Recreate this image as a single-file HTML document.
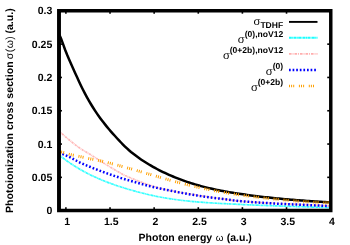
<!DOCTYPE html>
<html><head><meta charset="utf-8"><title>plot</title>
<style>
html,body{margin:0;padding:0;background:#fff;}
body{width:350px;height:245px;overflow:hidden;}
svg{display:block;}
.t{filter:grayscale(1);}
text{font-family:"Liberation Sans",sans-serif;font-weight:bold;font-size:10.53px;fill:#000;text-rendering:geometricPrecision;}
</style></head><body>
<svg width="350" height="245" viewBox="0 0 350 245">
<rect width="350" height="245" fill="#fff"/>
<clipPath id="c"><rect x="59.0" y="10.85" width="271.8" height="199.8"/></clipPath>
<g fill="none" clip-path="url(#c)">
<path d="M59.0,33.88 L61.0,38.48 L63.0,43.87 L65.0,49.51 L67.0,54.57 L69.0,59.18 L71.0,63.76 L73.0,68.28 L75.0,72.70 L77.0,77.02 L79.0,81.42 L81.0,85.66 L83.0,89.73 L85.0,93.62 L87.0,97.33 L89.0,100.87 L91.0,104.26 L93.0,107.50 L95.0,110.61 L97.0,113.58 L99.0,116.43 L101.0,119.18 L103.0,121.82 L105.0,124.37 L107.0,126.84 L109.0,129.24 L111.0,131.56 L113.0,133.82 L115.0,136.00 L117.0,138.24 L119.0,140.41 L121.0,142.51 L123.0,144.55 L125.0,146.52 L127.0,148.43 L129.0,150.28 L131.0,152.00 L133.0,153.58 L135.0,155.11 L137.0,156.59 L139.0,158.02 L141.0,159.41 L143.0,160.74 L145.0,162.03 L147.0,163.28 L149.0,164.49 L151.0,165.67 L153.0,166.81 L155.0,167.93 L157.0,169.00 L159.0,170.05 L161.0,171.06 L163.0,172.04 L165.0,172.98 L167.0,173.90 L169.0,174.79 L171.0,175.66 L173.0,176.49 L175.0,177.30 L177.0,178.12 L179.0,178.91 L181.0,179.68 L183.0,180.42 L185.0,181.14 L187.0,181.84 L189.0,182.51 L191.0,183.16 L193.0,183.79 L195.0,184.40 L197.0,184.98 L199.0,185.55 L201.0,186.10 L203.0,186.63 L205.0,187.14 L207.0,187.64 L209.0,188.12 L211.0,188.58 L213.0,189.03 L215.0,189.46 L217.0,189.88 L219.0,190.28 L221.0,190.67 L223.0,191.05 L225.0,191.42 L227.0,191.78 L229.0,192.12 L231.0,192.46 L233.0,192.79 L235.0,193.11 L237.0,193.42 L239.0,193.72 L241.0,194.02 L243.0,194.31 L245.0,194.60 L247.0,194.87 L249.0,195.15 L251.0,195.41 L253.0,195.68 L255.0,195.93 L257.0,196.18 L259.0,196.43 L261.0,196.67 L263.0,196.90 L265.0,197.13 L267.0,197.35 L269.0,197.57 L271.0,197.79 L273.0,198.00 L275.0,198.20 L277.0,198.40 L279.0,198.60 L281.0,198.79 L283.0,198.97 L285.0,199.16 L287.0,199.33 L289.0,199.51 L291.0,199.68 L293.0,199.84 L295.0,200.01 L297.0,200.17 L299.0,200.32 L301.0,200.47 L303.0,200.62 L305.0,200.77 L307.0,200.91 L309.0,201.05 L311.0,201.18 L313.0,201.32 L315.0,201.45 L317.0,201.58 L319.0,201.70 L321.0,201.82 L323.0,201.94 L325.0,202.06 L327.0,202.18 L329.0,202.29" stroke="#000" stroke-width="2.5"/>
<path d="M59.0,154.90 L61.0,156.49 L63.0,158.02 L65.0,159.52 L67.0,160.96 L69.0,162.36 L71.0,163.72 L73.0,165.04 L75.0,166.31 L77.0,167.55 L79.0,168.74 L81.0,169.90 L83.0,171.02 L85.0,172.11 L87.0,173.16 L89.0,174.18 L91.0,175.17 L93.0,176.13 L95.0,177.06 L97.0,177.96 L99.0,178.83 L101.0,179.68 L103.0,180.51 L105.0,181.31 L107.0,182.09 L109.0,182.85 L111.0,183.59 L113.0,184.31 L115.0,185.01 L117.0,185.69 L119.0,186.36 L121.0,187.00 L123.0,187.64 L125.0,188.26 L127.0,188.86 L129.0,189.45 L131.0,190.03 L133.0,190.60 L135.0,191.15 L137.0,191.70 L139.0,192.23 L141.0,192.76 L143.0,193.27 L145.0,193.77 L147.0,194.25 L149.0,194.72 L151.0,195.18 L153.0,195.62 L155.0,196.05 L157.0,196.46 L159.0,196.85 L161.0,197.23 L163.0,197.60 L165.0,197.95 L167.0,198.28 L169.0,198.60 L171.0,198.91 L173.0,199.20 L175.0,199.49 L177.0,199.76 L179.0,200.02 L181.0,200.26 L183.0,200.50 L185.0,200.72 L187.0,200.94 L189.0,201.15 L191.0,201.34 L193.0,201.53 L195.0,201.71 L197.0,201.88 L199.0,202.05 L201.0,202.20 L203.0,202.35 L205.0,202.50 L207.0,202.64 L209.0,202.77 L211.0,202.90 L213.0,203.02 L215.0,203.14 L217.0,203.26 L219.0,203.37 L221.0,203.48 L223.0,203.58 L225.0,203.69 L227.0,203.79 L229.0,203.89 L231.0,203.99 L233.0,204.09 L235.0,204.18 L237.0,204.28 L239.0,204.37 L241.0,204.46 L243.0,204.55 L245.0,204.64 L247.0,204.73 L249.0,204.82 L251.0,204.90 L253.0,204.98 L255.0,205.07 L257.0,205.15 L259.0,205.23 L261.0,205.31 L263.0,205.38 L265.0,205.46 L267.0,205.54 L269.0,205.61 L271.0,205.69 L273.0,205.76 L275.0,205.83 L277.0,205.90 L279.0,205.97 L281.0,206.04 L283.0,206.11 L285.0,206.18 L287.0,206.25 L289.0,206.32 L291.0,206.38 L293.0,206.45 L295.0,206.51 L297.0,206.58 L299.0,206.64 L301.0,206.71 L303.0,206.77 L305.0,206.84 L307.0,206.90 L309.0,206.96 L311.0,207.02 L313.0,207.09 L315.0,207.15 L317.0,207.21 L319.0,207.27 L321.0,207.33 L323.0,207.40 L325.0,207.46 L327.0,207.52 L329.0,207.58" stroke="#00ffff" stroke-width="1.7" stroke-opacity="0.8" stroke-dasharray="2.8 0.4 1.0 0.4"/>
<path d="M59.0,130.84 L61.0,132.72 L63.0,134.56 L65.0,136.35 L67.0,138.10 L69.0,139.77 L71.0,141.41 L73.0,143.02 L75.0,144.61 L77.0,146.18 L79.0,147.52 L81.0,148.86 L83.0,150.18 L85.0,151.38 L87.0,152.57 L89.0,153.76 L91.0,154.95 L93.0,156.19 L95.0,157.50 L97.0,158.81 L99.0,160.10 L101.0,161.38 L103.0,162.65 L105.0,163.90 L107.0,165.14 L109.0,166.37 L111.0,167.57 L113.0,168.76 L115.0,169.93 L117.0,171.08 L119.0,172.21 L121.0,173.32 L123.0,174.41 L125.0,175.48 L127.0,176.36 L129.0,177.22 L131.0,178.06 L133.0,178.88 L135.0,179.67 L137.0,180.49 L139.0,181.29 L141.0,182.07 L143.0,182.82 L145.0,183.54 L147.0,184.23 L149.0,184.89 L151.0,185.56 L153.0,186.23 L155.0,186.86 L157.0,187.46 L159.0,188.02 L161.0,188.54 L163.0,189.04 L165.0,189.51 L167.0,189.95 L169.0,190.38 L171.0,190.77 L173.0,191.14 L175.0,191.50 L177.0,191.84 L179.0,192.18 L181.0,192.52 L183.0,192.86 L185.0,193.20 L187.0,193.53 L189.0,193.86 L191.0,194.19 L193.0,194.51 L195.0,194.83 L197.0,195.16 L199.0,195.49 L201.0,195.82 L203.0,196.13 L205.0,196.44 L207.0,196.75 L209.0,197.05 L211.0,197.34 L213.0,197.62 L215.0,197.90 L217.0,198.16 L219.0,198.42 L221.0,198.67 L223.0,198.94 L225.0,199.24 L227.0,199.53 L229.0,199.82 L231.0,200.09 L233.0,200.35 L235.0,200.61 L237.0,200.80 L239.0,200.98 L241.0,201.15 L243.0,201.32 L245.0,201.48 L247.0,201.64 L249.0,201.79 L251.0,201.93 L253.0,202.07 L255.0,202.20 L257.0,202.33 L259.0,202.45 L261.0,202.57 L263.0,202.68 L265.0,202.79 L267.0,202.90 L269.0,203.00 L271.0,203.10 L273.0,203.20 L275.0,203.30 L277.0,203.39 L279.0,203.48 L281.0,203.57 L283.0,203.66 L285.0,203.74 L287.0,203.83 L289.0,203.92 L291.0,204.00 L293.0,204.09 L295.0,204.17 L297.0,204.26 L299.0,204.34 L301.0,204.43 L303.0,204.52 L305.0,204.61 L307.0,204.70 L309.0,204.79 L311.0,204.89 L313.0,204.99 L315.0,205.09 L317.0,205.19 L319.0,205.30 L321.0,205.41 L323.0,205.53 L325.0,205.65 L327.0,205.77 L329.0,205.90" stroke="#ffa0a0" stroke-width="1.7" stroke-opacity="0.75" stroke-dasharray="2.2 0.6 0.8 0.6"/>
<path d="M59.0,152.49 L61.0,153.34 L63.0,154.21 L65.0,155.08 L67.0,155.96 L69.0,156.84 L71.0,157.81 L73.0,158.88 L75.0,159.94 L77.0,161.00 L79.0,162.05 L81.0,163.02 L83.0,163.88 L85.0,164.74 L87.0,165.59 L89.0,166.43 L91.0,167.26 L93.0,168.07 L95.0,168.87 L97.0,169.66 L99.0,170.43 L101.0,171.18 L103.0,171.93 L105.0,172.66 L107.0,173.37 L109.0,174.08 L111.0,174.77 L113.0,175.46 L115.0,176.13 L117.0,176.80 L119.0,177.46 L121.0,178.08 L123.0,178.67 L125.0,179.25 L127.0,179.83 L129.0,180.40 L131.0,180.98 L133.0,181.56 L135.0,182.14 L137.0,182.72 L139.0,183.29 L141.0,183.85 L143.0,184.41 L145.0,184.95 L147.0,185.48 L149.0,186.00 L151.0,186.49 L153.0,186.97 L155.0,187.43 L157.0,187.87 L159.0,188.30 L161.0,188.73 L163.0,189.16 L165.0,189.59 L167.0,190.00 L169.0,190.41 L171.0,190.81 L173.0,191.21 L175.0,191.60 L177.0,191.99 L179.0,192.37 L181.0,192.75 L183.0,193.12 L185.0,193.48 L187.0,193.84 L189.0,194.19 L191.0,194.52 L193.0,194.85 L195.0,195.17 L197.0,195.50 L199.0,195.81 L201.0,196.12 L203.0,196.41 L205.0,196.70 L207.0,196.98 L209.0,197.26 L211.0,197.52 L213.0,197.78 L215.0,198.03 L217.0,198.28 L219.0,198.52 L221.0,198.75 L223.0,199.01 L225.0,199.29 L227.0,199.57 L229.0,199.85 L231.0,200.11 L233.0,200.37 L235.0,200.63 L237.0,200.82 L239.0,201.00 L241.0,201.18 L243.0,201.35 L245.0,201.52 L247.0,201.69 L249.0,201.84 L251.0,202.00 L253.0,202.15 L255.0,202.29 L257.0,202.43 L259.0,202.57 L261.0,202.70 L263.0,202.83 L265.0,202.96 L267.0,203.08 L269.0,203.20 L271.0,203.31 L273.0,203.43 L275.0,203.54 L277.0,203.64 L279.0,203.75 L281.0,203.85 L283.0,203.95 L285.0,204.05 L287.0,204.15 L289.0,204.24 L291.0,204.33 L293.0,204.43 L295.0,204.52 L297.0,204.61 L299.0,204.69 L301.0,204.78 L303.0,204.87 L305.0,204.95 L307.0,205.04 L309.0,205.12 L311.0,205.21 L313.0,205.29 L315.0,205.38 L317.0,205.46 L319.0,205.55 L321.0,205.64 L323.0,205.72 L325.0,205.81 L327.0,205.90 L329.0,205.99" stroke="#0000ff" stroke-width="2.5" stroke-dasharray="1.7 2.0"/>
<path d="M59.0,151.72 L61.0,151.91 L63.0,152.31 L65.0,152.91 L67.0,153.51 L69.0,154.12 L71.0,154.64 L73.0,155.05 L75.0,155.48 L77.0,155.91 L79.0,156.34 L81.0,156.77 L83.0,157.22 L85.0,157.66 L87.0,158.11 L89.0,158.57 L91.0,158.97 L93.0,159.32 L95.0,159.68 L97.0,160.04 L99.0,160.52 L101.0,161.01 L103.0,161.50 L105.0,161.99 L107.0,162.49 L109.0,163.00 L111.0,163.51 L113.0,164.03 L115.0,164.55 L117.0,165.07 L119.0,165.60 L121.0,166.14 L123.0,166.68 L125.0,167.23 L127.0,167.78 L129.0,168.34 L131.0,168.90 L133.0,169.47 L135.0,170.04 L137.0,170.61 L139.0,171.19 L141.0,171.77 L143.0,172.36 L145.0,172.94 L147.0,173.52 L149.0,174.11 L151.0,174.70 L153.0,175.28 L155.0,175.86 L157.0,176.45 L159.0,177.03 L161.0,177.61 L163.0,178.18 L165.0,178.75 L167.0,179.32 L169.0,179.88 L171.0,180.44 L173.0,181.00 L175.0,181.54 L177.0,182.08 L179.0,182.62 L181.0,183.14 L183.0,183.66 L185.0,184.17 L187.0,184.67 L189.0,185.16 L191.0,185.64 L193.0,186.12 L195.0,186.58 L197.0,187.04 L199.0,187.49 L201.0,187.93 L203.0,188.36 L205.0,188.78 L207.0,189.20 L209.0,189.60 L211.0,190.00 L213.0,190.40 L215.0,190.78 L217.0,191.15 L219.0,191.52 L221.0,191.88 L223.0,192.24 L225.0,192.58 L227.0,192.92 L229.0,193.25 L231.0,193.57 L233.0,193.89 L235.0,194.20 L237.0,194.50 L239.0,194.80 L241.0,195.09 L243.0,195.37 L245.0,195.65 L247.0,195.92 L249.0,196.18 L251.0,196.44 L253.0,196.69 L255.0,196.94 L257.0,197.18 L259.0,197.41 L261.0,197.64 L263.0,197.86 L265.0,198.08 L267.0,198.29 L269.0,198.49 L271.0,198.69 L273.0,198.89 L275.0,199.08 L277.0,199.26 L279.0,199.44 L281.0,199.63 L283.0,199.83 L285.0,200.02 L287.0,200.21 L289.0,200.40 L291.0,200.58 L293.0,200.75 L295.0,200.92 L297.0,201.09 L299.0,201.25 L301.0,201.40 L303.0,201.52 L305.0,201.64 L307.0,201.76 L309.0,201.87 L311.0,201.98 L313.0,202.09 L315.0,202.19 L317.0,202.29 L319.0,202.39 L321.0,202.48 L323.0,202.57 L325.0,202.66 L327.0,202.74 L329.0,202.82" stroke="#ffa000" stroke-width="2.9" stroke-dasharray="1.0 1.1 1.0 1.1 1.0 4.8"/>
</g>
<g stroke="#000" stroke-width="1.6"><line x1="65.90" y1="210.65" x2="65.90" y2="207.20"/><line x1="65.90" y1="10.85" x2="65.90" y2="13.70"/><line x1="110.03" y1="210.65" x2="110.03" y2="207.20"/><line x1="110.03" y1="10.85" x2="110.03" y2="13.70"/><line x1="154.15" y1="210.65" x2="154.15" y2="207.20"/><line x1="154.15" y1="10.85" x2="154.15" y2="13.70"/><line x1="198.28" y1="210.65" x2="198.28" y2="207.20"/><line x1="198.28" y1="10.85" x2="198.28" y2="13.70"/><line x1="242.40" y1="210.65" x2="242.40" y2="207.20"/><line x1="242.40" y1="10.85" x2="242.40" y2="13.70"/><line x1="286.52" y1="210.65" x2="286.52" y2="207.20"/><line x1="286.52" y1="10.85" x2="286.52" y2="13.70"/><line x1="330.65" y1="210.65" x2="330.65" y2="207.20"/><line x1="330.65" y1="10.85" x2="330.65" y2="13.70"/><line x1="59.0" y1="210.65" x2="61.95" y2="210.65"/><line x1="330.8" y1="210.65" x2="327.25" y2="210.65"/><line x1="59.0" y1="177.35" x2="61.95" y2="177.35"/><line x1="330.8" y1="177.35" x2="327.25" y2="177.35"/><line x1="59.0" y1="144.05" x2="61.95" y2="144.05"/><line x1="330.8" y1="144.05" x2="327.25" y2="144.05"/><line x1="59.0" y1="110.75" x2="61.95" y2="110.75"/><line x1="330.8" y1="110.75" x2="327.25" y2="110.75"/><line x1="59.0" y1="77.45" x2="61.95" y2="77.45"/><line x1="330.8" y1="77.45" x2="327.25" y2="77.45"/><line x1="59.0" y1="44.15" x2="61.95" y2="44.15"/><line x1="330.8" y1="44.15" x2="327.25" y2="44.15"/><line x1="59.0" y1="10.85" x2="61.95" y2="10.85"/><line x1="330.8" y1="10.85" x2="327.25" y2="10.85"/></g>
<path fill="#000" fill-rule="evenodd" d="M57.05,9.0H332.5V212.3H57.05Z M60.95,12.5H329.05V208.8H60.95Z"/>
<g class="t">
<g><text x="67.20" y="225.1" text-anchor="middle">1</text><text x="111.33" y="225.1" text-anchor="middle">1.5</text><text x="155.45" y="225.1" text-anchor="middle">2</text><text x="199.58" y="225.1" text-anchor="middle">2.5</text><text x="243.70" y="225.1" text-anchor="middle">3</text><text x="287.82" y="225.1" text-anchor="middle">3.5</text><text x="331.95" y="225.1" text-anchor="middle">4</text></g>
<g><text x="52.3" y="214.20" text-anchor="end">0</text><text x="52.3" y="180.90" text-anchor="end">0.05</text><text x="52.3" y="147.60" text-anchor="end">0.1</text><text x="52.3" y="114.30" text-anchor="end">0.15</text><text x="52.3" y="81.00" text-anchor="end">0.2</text><text x="52.3" y="47.70" text-anchor="end">0.25</text><text x="52.3" y="14.40" text-anchor="end">0.3</text></g>
<text x="195.2" y="241.1" text-anchor="middle">Photon energy <tspan font-weight="normal" font-size="9.8" dx="0.6">ω</tspan><tspan dx="0.4"> (a.u.)</tspan></text>
<text transform="translate(13.4,213.05) rotate(-90)" text-anchor="start"><tspan letter-spacing="0.073">Photoionization cross section </tspan><tspan font-weight="normal" font-size="10.4" letter-spacing="0.5" dx="-0.8">σ(ω)</tspan><tspan dx="-0.7"> (a.u.)</tspan></text>
<g><text x="283.2" y="24.50" text-anchor="end"><tspan font-weight="normal" font-size="11.129999999999999">σ</tspan><tspan font-size="8.55" dy="3.1">TDHF</tspan></text><text x="283.2" y="42.50" text-anchor="end"><tspan font-weight="normal" font-size="11.129999999999999">σ</tspan><tspan font-size="8.55" dy="-5.4">(0),noV12</tspan></text><text x="283.2" y="58.50" text-anchor="end"><tspan font-weight="normal" font-size="11.129999999999999">σ</tspan><tspan font-size="8.55" dy="-5.4">(0+2b),noV12</tspan></text><text x="283.2" y="74.70" text-anchor="end"><tspan font-weight="normal" font-size="11.129999999999999">σ</tspan><tspan font-size="8.55" dy="-5.4">(0)</tspan></text><text x="283.2" y="90.70" text-anchor="end"><tspan font-weight="normal" font-size="11.129999999999999">σ</tspan><tspan font-size="8.55" dy="-5.4">(0+2b)</tspan></text></g>
</g>
<g fill="none"><line x1="289.0" y1="21.9" x2="317.5" y2="21.9" stroke="#000" stroke-width="1.9"/><line x1="289.0" y1="37.8" x2="317.5" y2="37.8" stroke="#00ffff" stroke-width="2.0" stroke-opacity="0.9" stroke-dasharray="2.8 0.4 1.0 0.4"/><line x1="289.0" y1="53.8" x2="317.5" y2="53.8" stroke="#ffa0a0" stroke-width="1.8" stroke-opacity="0.85" stroke-dasharray="2.6 1.0 0.9 1.0"/><line x1="289.0" y1="70.0" x2="317.5" y2="70.0" stroke="#0000ff" stroke-width="2.6" stroke-dasharray="1.7 1.9"/><line x1="289.0" y1="86.0" x2="317.5" y2="86.0" stroke="#ffa000" stroke-width="2.6" stroke-dasharray="1.0 1.1 1.0 1.1 1.0 4.7"/></g>
</svg>
</body></html>
